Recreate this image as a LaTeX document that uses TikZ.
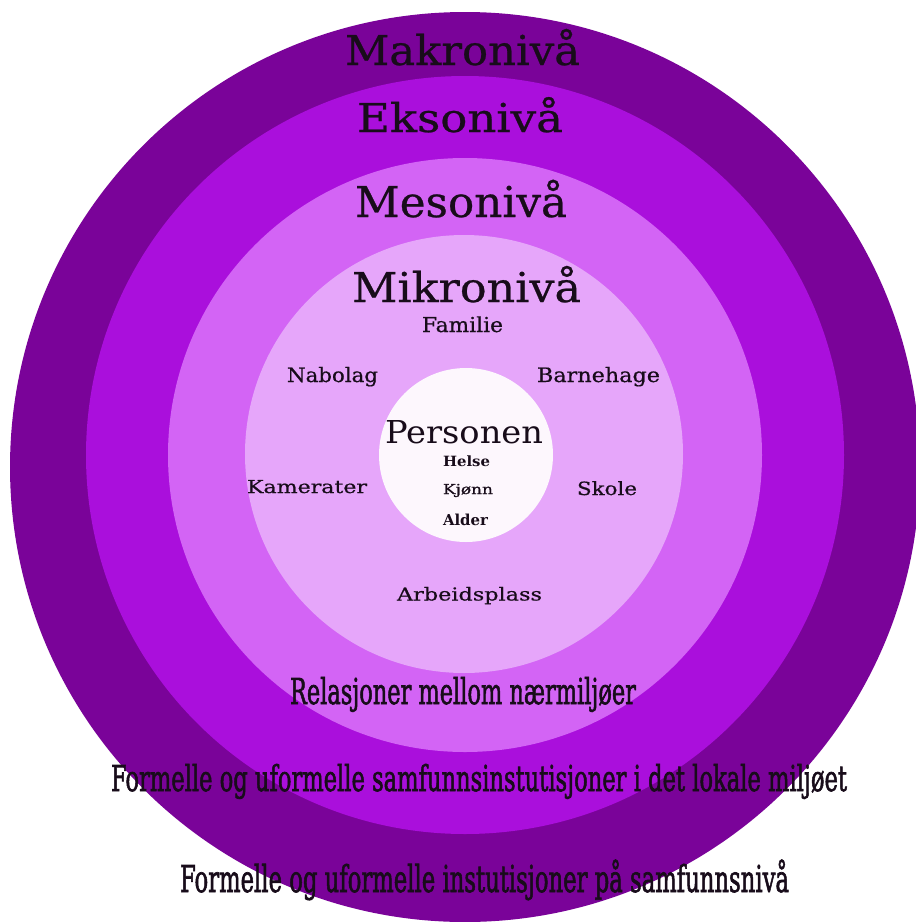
\documentclass[tikz,border=0pt]{standalone}
\usepackage{fontspec}
\setmainfont{DejaVu Serif}
\newfontfamily\condfont[FakeBold=2]{DejaVu Serif}
\newfontfamily\titlefont[FakeBold=0.6]{DejaVu Serif}
\usepackage{graphicx}
\definecolor{cmakro}{RGB}{122,3,153}
\definecolor{cekso}{RGB}{170,15,220}
\definecolor{cmeso}{RGB}{211,100,245}
\definecolor{cmikro}{RGB}{230,166,250}
\definecolor{cperson}{RGB}{253,247,253}
\definecolor{ctext}{RGB}{24,12,26}
\newlength\pxu
\setlength\pxu{0.75pt}
\newcommand{\lab}[3]{\resizebox{#1\pxu}{#2\pxu}{\vphantom{H}\smash{#3}}}
\tikzset{
  ring/.style={draw=none},
  lbl/.style={inner sep=0pt, outer sep=0pt, anchor=base west, text=ctext}
}
\begin{document}
\begin{tikzpicture}[x=0.75pt, y=-0.75pt]
\useasboundingbox (0,0) rectangle (916,922);
\clip (0,0) rectangle (916,922);
\fill[white] (0,0) rectangle (916,922);
% rings
\fill[cmakro, ring] (465,467) circle[radius=455];
\fill[cekso, ring] (465,455) circle[radius=379];
\fill[cmeso, ring] (465,455) circle[radius=297];
\fill[cmikro, ring] (464,454) circle[radius=219];
\fill[cperson, ring] (466,455) circle[radius=87];
% level titles
\node[lbl] (makro) at (345,65) {\lab{235}{30}{\titlefont Makronivå}};
\node[lbl] (ekso) at (357,132) {\lab{206}{29}{\titlefont Eksonivå}};
\node[lbl] (meso) at (355,217) {\lab{212}{31}{\titlefont Mesonivå}};
\node[lbl] (mikro) at (352,302) {\lab{229}{30}{\titlefont Mikronivå}};
% micro items
\node[lbl] (familie) at (422,332) {\lab{81}{15}{\titlefont Familie}};
\node[lbl] (nabolag) at (287,382) {\lab{91}{14.5}{\titlefont Nabolag}};
\node[lbl] (barnehage) at (537,382) {\lab{123}{14.5}{\titlefont Barnehage}};
\node[lbl] (kamerater) at (247,493) {\lab{120}{13}{\titlefont Kamerater}};
\node[lbl] (skole) at (577,495) {\lab{60}{13.3}{\titlefont Skole}};
\node[lbl] (arbeid) at (397,600.5) {\lab{145}{13}{\titlefont Arbeidsplass}};
% person
\node[lbl] (personen) at (385,443) {\lab{158}{23}{Personen}};
\node[lbl] (helse) at (443,466) {\lab{47}{10.3}{\bfseries Helse}};
\node[lbl] (kjonn) at (443,494) {\lab{50}{10}{\titlefont Kjønn}};
\node[lbl] (alder) at (443,525) {\lab{45}{11}{\bfseries Alder}};
% bottom descriptions
\node[lbl] (relasjoner) at (290,704) {\lab{346}{26}{\condfont Relasjoner mellom nærmiljøer}};
\node[lbl] (lokale) at (111,791) {\lab{736}{26}{\condfont Formelle og uformelle samfunnsinstutisjoner i det lokale miljøet}};
\node[lbl] (samfunn) at (180,892) {\lab{609}{27}{\condfont Formelle og uformelle instutisjoner på samfunnsnivå}};
\end{tikzpicture}
\end{document}
